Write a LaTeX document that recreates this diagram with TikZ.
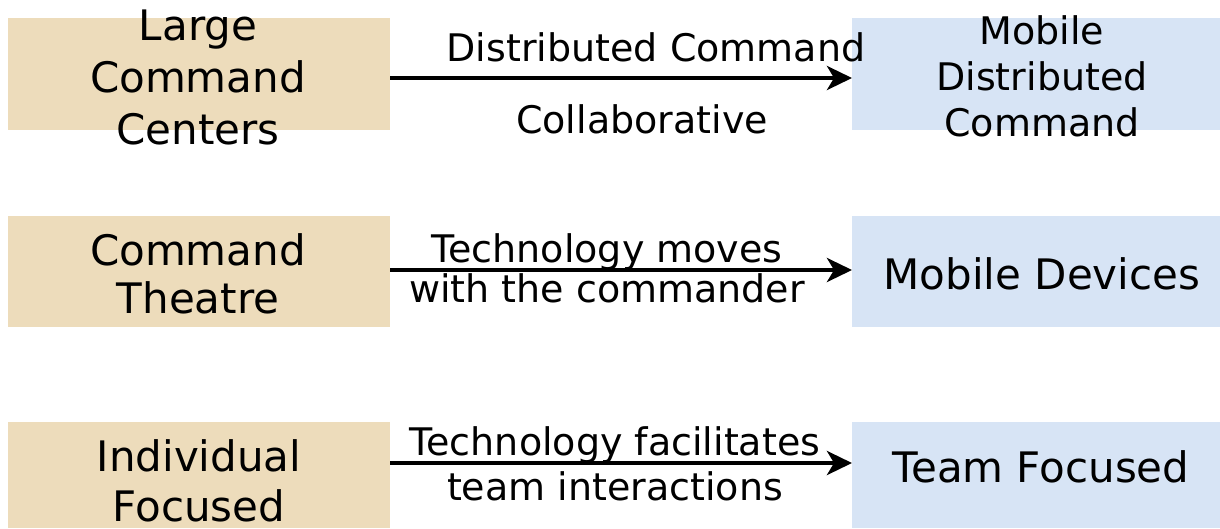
\documentclass[tikz,border=0pt]{standalone}
\usepackage{fontspec}
\setmainfont{DejaVu Sans}
\usetikzlibrary{arrows.meta}
\definecolor{tanbox}{RGB}{237,220,187}
\definecolor{bluebox}{RGB}{215,228,245}
\tikzset{
  box/.style={draw=none, inner sep=0pt, outer sep=0pt, anchor=north west},
  tanb/.style={box, fill=tanbox},
  blueb/.style={box, fill=bluebox},
  bigtxt/.style={inner sep=0pt, align=center, anchor=base, font=\fontsize{42}{52}\selectfont},
  smalltxt/.style={inner sep=0pt, align=center, anchor=base, font=\fontsize{38}{46}\selectfont},
  arr/.style={line width=4pt, -{Stealth[length=25pt,width=24pt,inset=7pt]}},
}
\begin{document}
\begin{tikzpicture}[x=1pt,y=-1pt]
\useasboundingbox (0,0) rectangle (1220,528);
% boxes
\node[tanb, minimum width=382pt, minimum height=112pt] (lbox1) at (8,18) {};
\node[blueb, minimum width=368pt, minimum height=112pt] (rbox1) at (852,18) {};
\node[tanb, minimum width=382pt, minimum height=111pt] (lbox2) at (8,216) {};
\node[blueb, minimum width=368pt, minimum height=111pt] (rbox2) at (852,216) {};
\node[tanb, minimum width=382pt, minimum height=106pt] (lbox3) at (8,422) {};
\node[blueb, minimum width=368pt, minimum height=106pt] (rbox3) at (852,422) {};
% box texts (anchor = baseline of the last line)
\node[bigtxt] (lt1) at (198,144) {Large\\Command\\Centers};
\node[smalltxt] (rt1) at (1042,136) {Mobile\\Distributed\\Command};
\node[bigtxt, font=\fontsize{42}{48}\selectfont] (lt2) at (198,313) {Command\\Theatre};
\node[bigtxt] (rt2) at (1042,289) {Mobile Devices};
\node[bigtxt, font=\fontsize{42}{50}\selectfont] (lt3) at (199,521) {Individual\\Focused};
\node[bigtxt] (rt3) at (1041,482) {Team Focused};
% arrows
\draw[arr] ([yshift=-4pt]lbox1.east) -- ([yshift=-4pt]rbox1.west);
\draw[arr] ([yshift=1.5pt]lbox2.east) -- ([yshift=1.5pt]rbox2.west);
\draw[arr] ([yshift=12pt]lbox3.east) -- ([yshift=12pt]rbox3.west);
% arrow labels
\node[smalltxt] (a1) at (656,61) {Distributed Command};
\node[smalltxt] (b1) at (642,133) {Collaborative};
\node[smalltxt, font=\fontsize{38}{40}\selectfont] (a2) at (607,302) {Technology moves\\with the commander};
\node[smalltxt, font=\fontsize{38}{45}\selectfont] (a3) at (615,500) {Technology facilitates\\team interactions};
\end{tikzpicture}
\end{document}
